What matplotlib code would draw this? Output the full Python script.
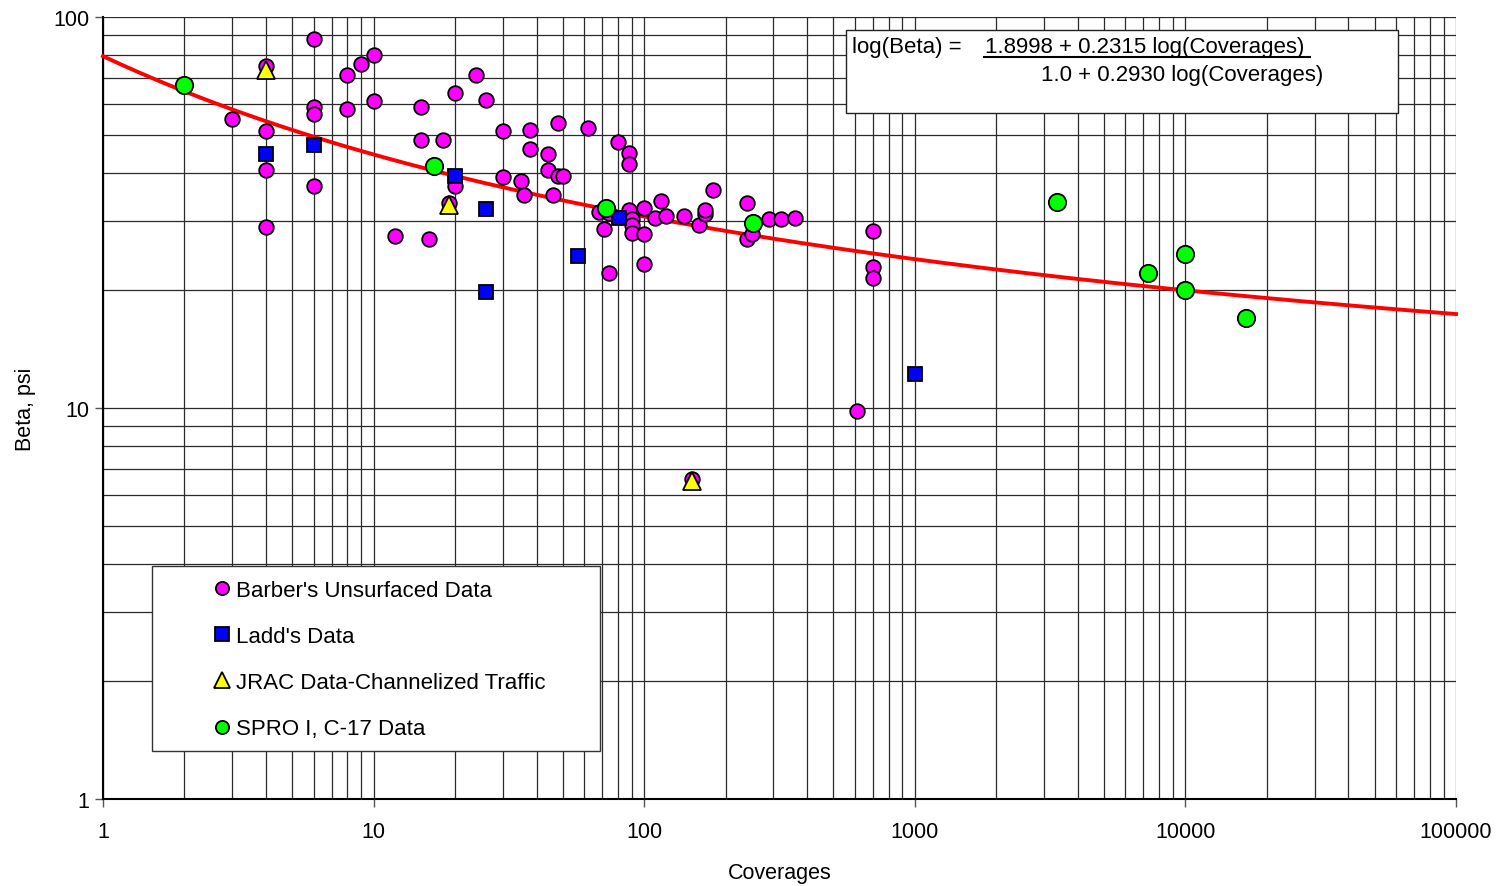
import numpy as np
import matplotlib.pyplot as plt
from matplotlib.ticker import LogLocator, FixedLocator, FixedFormatter, NullFormatter
from matplotlib.patches import Rectangle
from matplotlib.lines import Line2D

plt.rcParams['font.family'] = ['Liberation Sans', 'DejaVu Sans']

# --- Data sets (coverages, beta in psi) ---
barber_cov = [3, 4, 4, 4, 4, 6, 6, 6, 6, 8, 8, 9, 10, 10, 12, 15, 15, 16, 18, 19,
              20, 20, 24, 26, 30, 30, 35, 36, 38, 38, 44, 44, 46, 48, 48, 50, 62,
              68, 71, 74, 74, 80, 88, 88, 88, 90, 90, 90, 100, 100, 100, 110, 115,
              120, 140, 150, 160, 168, 168, 180, 240, 240, 250, 290, 320, 360,
              610, 700, 700, 700]
barber_beta = [55, 75, 51, 40.5, 29, 88, 59, 56.5, 37, 71, 58, 76, 80, 61, 27.5,
               59, 48.5, 27, 48.5, 33.5, 64, 37, 71, 61.5, 51, 39, 38, 35, 51.5, 46,
               44.5, 40.7, 35, 53.5, 39.3, 39.3, 52, 31.8, 28.7, 31.6, 22.2, 48, 45,
               42, 32, 30.4, 29.4, 28, 32.4, 27.8, 23.3, 30.7, 33.8, 31, 31, 6.6,
               29.3, 31.3, 32, 36, 33.4, 27, 27.9, 30.4, 30.4, 30.7, 9.8, 28.4,
               22.9, 21.5]

ladd_cov = [4, 6, 20, 26, 26, 57, 81, 1000]
ladd_beta = [44.5, 47, 39.3, 32.2, 19.8, 24.5, 30.7, 12.2]

jrac_cov = [4, 19, 150]
jrac_beta = [73, 33, 6.5]

spro_cov = [2, 16.7, 72, 253, 3350, 7300, 10000, 10000, 16700]
spro_beta = [67, 41.5, 32.5, 29.7, 33.7, 22.1, 24.8, 20, 17]

# Regression: log(Beta) = (a + b log C) / (1 + c log C)
fit_a, fit_b, fit_c = 1.8998, 0.2315, 0.2930

x_ticks = [1, 10, 100, 1000, 10000, 100000]
x_tick_labels = ['1', '10', '100', '1000', '10000', '100000']
y_ticks = [1, 10, 100]
y_tick_labels = ['1', '10', '100']

W, H = 1501, 887
fig = plt.figure(figsize=(W / 100, H / 100), dpi=100)
ax = fig.add_axes([103 / W, 1 - 800 / H, (1456 - 103) / W, (800 - 18) / H])
ax.set_xscale('log')
ax.set_yscale('log')
ax.set_xlim(1, 100000)
ax.set_ylim(1, 100)

# Excel style grid on every decade subdivision
ax.xaxis.set_minor_locator(LogLocator(base=10, subs=np.arange(2, 10)))
ax.yaxis.set_minor_locator(LogLocator(base=10, subs=np.arange(2, 10)))
ax.xaxis.set_minor_formatter(NullFormatter())
ax.yaxis.set_minor_formatter(NullFormatter())
ax.grid(True, which='both', color='#2a2a2a', linewidth=0.9, zorder=0)
ax.set_axisbelow(True)
ax.tick_params(which='minor', length=0)
ax.tick_params(which='major', length=6, width=1, direction='out', labelsize=15.5,
               color='#555555')
ax.tick_params(axis='x', pad=10)
ax.tick_params(axis='y', pad=4)
ax.xaxis.set_major_locator(FixedLocator(x_ticks))
ax.xaxis.set_major_formatter(FixedFormatter(x_tick_labels))
ax.yaxis.set_major_locator(FixedLocator(y_ticks))
ax.yaxis.set_major_formatter(FixedFormatter(y_tick_labels))
for s in ['top', 'right']:
    ax.spines[s].set_visible(False)
for s in ['left', 'bottom']:
    ax.spines[s].set_color('black')
    ax.spines[s].set_linewidth(1.5)

# Fitted curve
cov = np.logspace(0, 5, 400)
lc = np.log10(cov)
beta_fit = 10 ** ((fit_a + fit_b * lc) / (1 + fit_c * lc))
ax.plot(cov, beta_fit, color='#ff0000', linewidth=2.8, zorder=3, clip_on=False)

mk = dict(linestyle='none', markeredgecolor='black', markeredgewidth=1.3)
h1, = ax.plot(barber_cov, barber_beta, marker='o', markersize=10.5,
              markerfacecolor='#ff00ff', label="Barber's Unsurfaced Data",
              zorder=4, clip_on=False, **mk)
h2, = ax.plot(ladd_cov, ladd_beta, marker='s', markersize=10,
              markerfacecolor='#0000ff', label="Ladd's Data",
              zorder=4, clip_on=False, **mk)
h3, = ax.plot(jrac_cov, jrac_beta, marker='^', markersize=13,
              markerfacecolor='#ffff00', label='JRAC Data-Channelized Traffic',
              zorder=4, clip_on=False, **mk)
h4, = ax.plot(spro_cov, spro_beta, marker='o', markersize=12.5,
              markerfacecolor='#00ff00', label='SPRO I, C-17 Data',
              zorder=4, clip_on=False, **mk)

ax.set_xlabel('Coverages', fontsize=15.5, labelpad=14)
ax.set_ylabel('Beta, psi', fontsize=15.5, labelpad=12)


def fx(px):
    return px / W


def fy(py):
    return 1 - py / H


# Legend box
fig.patches.append(Rectangle((fx(152), fy(752)), fx(600) - fx(152), fy(567) - fy(752),
                             transform=fig.transFigure, facecolor='white',
                             edgecolor='#333333', linewidth=1, zorder=5))
leg_handles = [
    Line2D([], [], marker='o', markersize=9.5, markerfacecolor='#ff00ff', **mk),
    Line2D([], [], marker='s', markersize=9.5, markerfacecolor='#0000ff', **mk),
    Line2D([], [], marker='^', markersize=11, markerfacecolor='#ffff00', **mk),
    Line2D([], [], marker='o', markersize=9.5, markerfacecolor='#00ff00', **mk),
]
leg = fig.legend(leg_handles, [h1.get_label(), h2.get_label(), h3.get_label(), h4.get_label()],
                 loc='upper left', bbox_to_anchor=(fx(213), fy(581)),
                 frameon=False, fontsize=16, handlelength=0.85, handletextpad=0.2,
                 labelspacing=1.13, borderpad=0, borderaxespad=0)
leg.set_zorder(6)

# Equation box
fig.patches.append(Rectangle((fx(846), fy(114)), fx(1398) - fx(846), fy(31) - fy(114),
                             transform=fig.transFigure, facecolor='white',
                             edgecolor='#222222', linewidth=1, zorder=5))
fig.text(fx(852), fy(47), 'log(Beta) =', fontsize=16, va='center', ha='left', zorder=6)
fig.text(fx(985), fy(47), '1.8998 + 0.2315 log(Coverages)', fontsize=16,
         va='center', ha='left', zorder=6)
fig.lines.append(Line2D([fx(984), fx(1310)], [fy(58), fy(58)], transform=fig.transFigure,
                        color='black', linewidth=1.5, zorder=6))
fig.text(fx(1041), fy(75), '1.0 + 0.2930 log(Coverages)', fontsize=16,
         va='center', ha='left', zorder=6)

fig.savefig('out.png', dpi=100)
